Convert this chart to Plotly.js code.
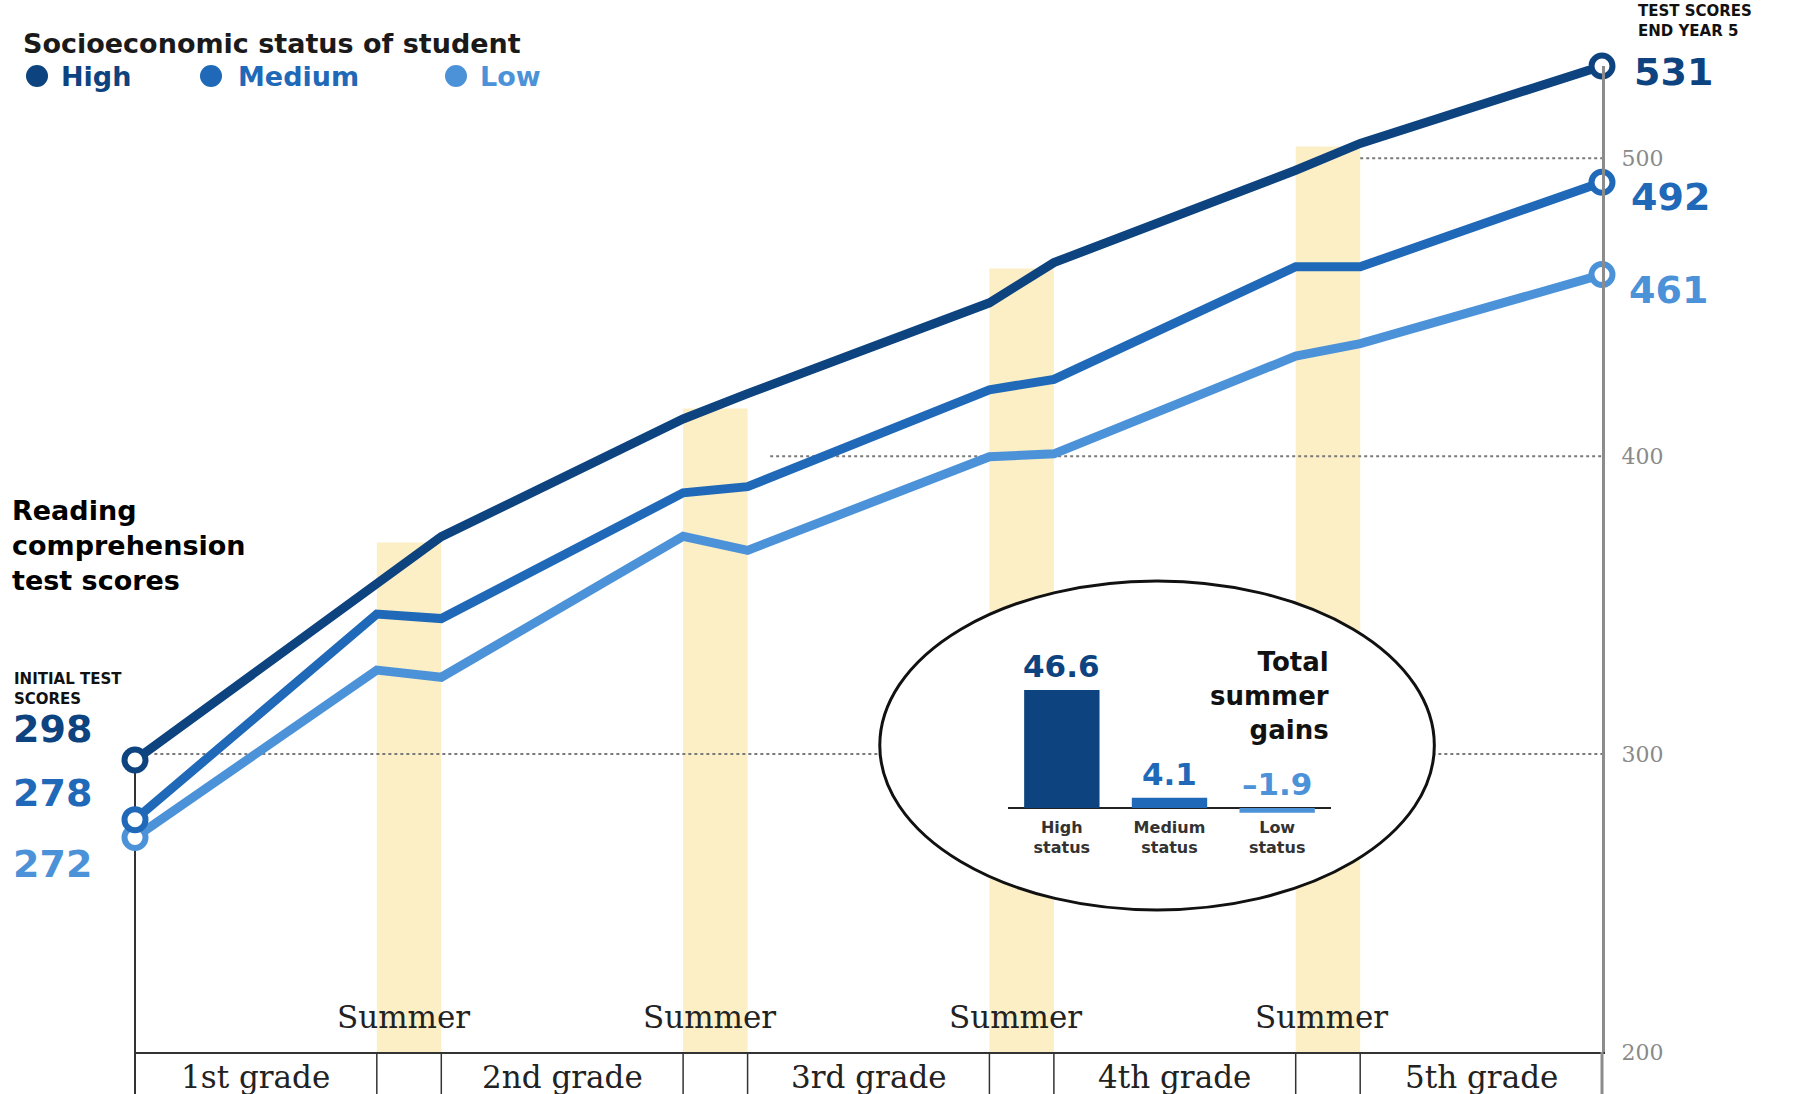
<!DOCTYPE html>
<html>
<head>
<meta charset="utf-8">
<script src="https://cdn.plot.ly/plotly-3.0.1.min.js"></script>
<style>html,body{margin:0;padding:0;background:#fff;}#chart{width:1810px;height:1094px;}</style>
</head>
<body>
<div id="chart"></div>
<script>
// ---------- DATA ----------
// timeline: start of 1st grade, then end of each school year / start of next one (summer in between)
const timeline = [0, 15, 19, 34, 38, 53, 57, 72, 76, 91];
const highScores   = [298, 357.5, 373, 412.5, 421, 451.5, 465, 496, 505, 531];
const mediumScores = [278, 347, 345.5, 387.7, 389.8, 422.3, 425.8, 463.6, 463.6, 492];
const lowScores    = [272, 328.2, 325.8, 373.1, 368.4, 399.8, 400.8, 433.6, 437.8, 461];
const summerBandTop = [371, 416, 463, 504];
const gradeLabels = ['1st grade', '2nd grade', '3rd grade', '4th grade', '5th grade'];
const summerLabel = 'Summer';
const yTicks = [200, 300, 400, 500];
const gainCategories = ['High<br>status', 'Medium<br>status', 'Low<br>status'];
const gainValues = [46.6, 4.1, -1.9];

// ---------- STYLE ----------
const C_HIGH = '#0d437f', C_MED = '#1f69b8', C_LOW = '#4c92d8';
const BAND = '#fcefc6';
const SANS = 'DejaVu Sans', SERIF = 'DejaVu Serif';

// plot area in pixels
const L = 135, R = 1602, T = 66, B = 1052, W = 1810, H = 1094;
const px = x => (x - L) / (R - L);
const py = y => (B - y) / (B - T);
const yMin = 200, yMax = 531;

const traces = [];
const series = [
  {name: 'Low', y: lowScores, c: C_LOW},
  {name: 'Medium', y: mediumScores, c: C_MED},
  {name: 'High', y: highScores, c: C_HIGH}
];
series.forEach(s => traces.push({
  type: 'scatter', mode: 'lines', x: timeline, y: s.y, name: s.name,
  line: {color: s.c, width: 9}, hoverinfo: 'skip', showlegend: false
}));
series.forEach(s => traces.push({
  type: 'scatter', mode: 'markers',
  x: [timeline[0], timeline[timeline.length - 1]],
  y: [s.y[0], s.y[s.y.length - 1]],
  marker: {size: 21, color: '#ffffff', line: {color: s.c, width: 6}},
  cliponaxis: false, hoverinfo: 'skip', showlegend: false
}));
traces.push({
  type: 'bar', x: gainCategories, y: gainValues, xaxis: 'x2', yaxis: 'y2',
  width: 0.7, marker: {color: [C_HIGH, C_MED, C_LOW]}, hoverinfo: 'skip', showlegend: false
});

// ---------- SHAPES ----------
const shapes = [];
for (let i = 0; i < 4; i++) {
  shapes.push({type: 'rect', xref: 'x', yref: 'y', x0: timeline[2 * i + 1], x1: timeline[2 * i + 2],
    y0: yMin, y1: summerBandTop[i], fillcolor: BAND, line: {width: 0}, layer: 'below'});
}
const grid = [[300, 1.2], [400, 39.4], [500, 76]];
grid.forEach(g => shapes.push({type: 'line', xref: 'x', yref: 'y', x0: g[1], x1: timeline[timeline.length - 1],
  y0: g[0], y1: g[0], line: {color: '#7a7a7a', width: 2, dash: 'dot'}, layer: 'below'}));
// inset circle
shapes.push({type: 'circle', xref: 'x', yref: 'y', x0: 46.2, x1: 80.6, y0: 247.7, y1: 358.1,
  fillcolor: '#ffffff', line: {color: '#111111', width: 3}, layer: 'below'});
// grade dividers under the axis
for (let i = 1; i < timeline.length - 1; i++) {
  shapes.push({type: 'line', xref: 'x', yref: 'paper', x0: timeline[i], x1: timeline[i],
    y0: 0, y1: -(H - B) / (B - T), line: {color: '#333333', width: 1.5}, layer: 'above'});
}
// left axis line from first mark down
shapes.push({type: 'line', xref: 'paper', yref: 'paper', x0: 0, x1: 0,
  y0: -(H - B) / (B - T), y1: (highScores[0] - yMin) / (yMax - yMin), line: {color: '#333333', width: 2}, layer: 'below'});
// right axis continuation
shapes.push({type: 'line', xref: 'paper', yref: 'paper', x0: 1, x1: 1,
  y0: -(H - B) / (B - T), y1: 0, line: {color: '#8c8c8c', width: 3}, layer: 'above'});
// legend dots
[[37, C_HIGH], [211, C_MED], [456, C_LOW]].forEach(d => shapes.push({
  type: 'circle', xref: 'paper', yref: 'paper', x0: px(d[0] - 11), x1: px(d[0] + 11),
  y0: py(87), y1: py(65), fillcolor: d[1], line: {width: 0}, layer: 'above'}));

// ---------- ANNOTATIONS ----------
const ann = [];
function txt(text, x, y, opts) {
  ann.push(Object.assign({text: text, x: px(x), y: py(y), xref: 'paper', yref: 'paper',
    showarrow: false, xanchor: 'left', yanchor: 'middle'}, opts));
}
const fBold = (s, c) => ({family: SANS, size: s, color: c || '#111', weight: 'bold'});
txt('Socioeconomic status of student', 21, 43, {font: fBold(27, '#1a1a1a')});
txt('High', 59, 76, {font: fBold(27, C_HIGH)});
txt('Medium', 236, 76, {font: fBold(27, C_MED)});
txt('Low', 478, 76, {font: fBold(27, C_LOW)});
txt('Reading<br>comprehension<br>test scores', 10, 545, {align: 'left', font: fBold(27, '#000')});
txt('INITIAL TEST<br>SCORES', 12, 689, {align: 'left', font: fBold(15, '#111')});
txt(String(highScores[0]), 11, 729, {font: fBold(38, C_HIGH)});
txt(String(mediumScores[0]), 11, 793, {font: fBold(38, C_MED)});
txt(String(lowScores[0]), 11, 864, {font: fBold(38, C_LOW)});
txt('TEST SCORES<br>END YEAR 5', 1636, 21, {align: 'left', font: fBold(15, '#111')});
txt(String(highScores[highScores.length - 1]), 1632, 72, {font: fBold(38, C_HIGH)});
txt(String(mediumScores[mediumScores.length - 1]), 1629, 197, {font: fBold(38, C_MED)});
txt(String(lowScores[lowScores.length - 1]), 1627, 290, {font: fBold(38, C_LOW)});
for (let i = 0; i < 4; i++) {
  ann.push({text: summerLabel, xref: 'x', yref: 'paper', x: (timeline[2 * i + 1] + timeline[2 * i + 2]) / 2,
    y: py(1017), xshift: -6, showarrow: false, xanchor: 'center', yanchor: 'middle',
    font: {family: SERIF, size: 31, color: '#222'}});
}
for (let i = 0; i < 5; i++) {
  const a = i === 0 ? timeline[0] : timeline[2 * i];
  const b = timeline[2 * i + 1];
  ann.push({text: gradeLabels[i], xref: 'x', yref: 'paper', x: (a + b) / 2, y: py(1077),
    showarrow: false, xanchor: 'center', yanchor: 'middle', font: {family: SERIF, size: 31, color: '#222'}});
}
txt('Total<br>summer<br>gains', 1331, 696, {xanchor: 'right', align: 'right',
  font: {family: SANS, size: 26, color: '#111', weight: 'bold'}});
const barColors = [C_HIGH, C_MED, C_LOW];
gainValues.forEach((v, i) => ann.push({
  text: (v < 0 ? '\u2013' : '') + Math.abs(v).toFixed(1), xref: 'x2', yref: 'y2', x: gainCategories[i], y: Math.max(v, 0),
  yanchor: 'bottom', xanchor: 'center', yshift: 4, showarrow: false, font: fBold(31, barColors[i])
}));

const layout = {
  width: W, height: H,
  margin: {l: L, r: W - R, t: T, b: H - B, pad: 0},
  paper_bgcolor: '#ffffff', plot_bgcolor: 'rgba(0,0,0,0)',
  showlegend: false,
  xaxis: {range: [timeline[0], timeline[timeline.length - 1]], showline: true, linecolor: '#333333', linewidth: 2,
    showgrid: false, zeroline: false, showticklabels: false, ticks: '', fixedrange: true},
  yaxis: {range: [yMin, yMax], side: 'right', showline: true, linecolor: '#8c8c8c', linewidth: 3,
    showgrid: false, zeroline: false, tickvals: yTicks, ticks: '', ticklabelstandoff: 12,
    tickfont: {family: SERIF, size: 22, color: '#8a8a8a'}, fixedrange: true},
  xaxis2: {domain: [px(1008), px(1331)], anchor: 'y2', type: 'category', showline: false, showgrid: false,
    zeroline: false, ticks: '', tickfont: {family: SANS, size: 16, color: '#333', weight: 'bold'}, fixedrange: true},
  yaxis2: {domain: [py(815.6), py(685)], anchor: 'x2', range: [-3, 48.6], showgrid: false, showline: false,
    zeroline: true, zerolinecolor: '#222222', zerolinewidth: 2, showticklabels: false, ticks: '', fixedrange: true},
  shapes: shapes,
  annotations: ann
};

Plotly.newPlot('chart', traces, layout, {staticPlot: true, displayModeBar: false});
</script>
</body>
</html>
